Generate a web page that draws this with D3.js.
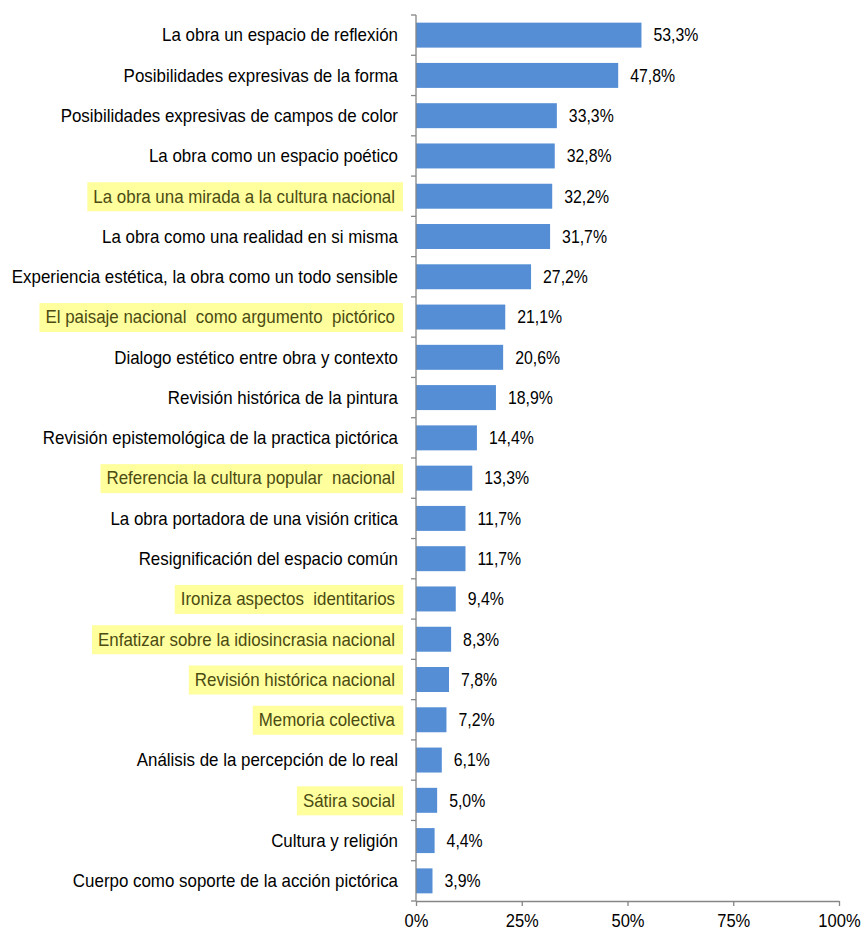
<!DOCTYPE html>
<html>
<head>
<meta charset="utf-8">
<script src="https://cdn.jsdelivr.net/npm/d3@7"></script>
<style>
  body { margin: 0; background: #fff; }
  text { font-family: "Liberation Sans", Arial, sans-serif; }
</style>
</head>
<body>
<svg id="chart" width="864" height="930"></svg>
<script>
const categories = [
  "La obra un espacio de reflexión",
  "Posibilidades expresivas de la forma",
  "Posibilidades expresivas de campos de color",
  "La obra como un espacio poético",
  "La obra una mirada a la cultura nacional",
  "La obra como una realidad en si misma",
  "Experiencia estética, la obra como un todo sensible",
  "El paisaje nacional  como argumento  pictórico",
  "Dialogo estético entre obra y contexto",
  "Revisión histórica de la pintura",
  "Revisión epistemológica de la practica pictórica",
  "Referencia la cultura popular  nacional",
  "La obra portadora de una visión critica",
  "Resignificación del espacio común",
  "Ironiza aspectos  identitarios",
  "Enfatizar sobre la idiosincrasia nacional",
  "Revisión histórica nacional",
  "Memoria colectiva",
  "Análisis de la percepción de lo real",
  "Sátira social",
  "Cultura y religión",
  "Cuerpo como soporte de la acción pictórica"
];
const values = [53.3, 47.8, 33.3, 32.8, 32.2, 31.7, 27.2, 21.1, 20.6, 18.9, 14.4, 13.3, 11.7, 11.7, 9.4, 8.3, 7.8, 7.2, 6.1, 5.0, 4.4, 3.9];
const highlighted = [
  "La obra una mirada a la cultura nacional",
  "El paisaje nacional  como argumento  pictórico",
  "Referencia la cultura popular  nacional",
  "Ironiza aspectos  identitarios",
  "Enfatizar sobre la idiosincrasia nacional",
  "Revisión histórica nacional",
  "Memoria colectiva",
  "Sátira social"
];
const xTicks = [0, 25, 50, 75, 100];

const svg = d3.select("#chart");
const mLeft = 416, mRight = 839, mTop = 15, mBottom = 901;
const fontSize = 18;
const labelScale = 0.94, valueScale = 0.88, tickScale = 0.92;

const x = d3.scaleLinear().domain([0, 100]).range([mLeft, mRight]);
const y = d3.scaleBand().domain(categories).range([mTop, mBottom]).paddingInner(0.38).paddingOuter(0.19);

const fmt = v => v.toFixed(1).replace(".", ",") + "%";

// highlight boxes + labels
const labels = svg.append("g");
categories.forEach(c => {
  const hl = highlighted.includes(c);
  const cy = y(c) + y.bandwidth() / 2;
  const tx = hl ? mLeft - 21 : mLeft - 18;
  const t = labels.append("text")
    .attr("transform", `translate(${tx},${cy}) scale(${labelScale},1)`)
    .attr("dy", "0.35em")
    .attr("text-anchor", "end")
    .attr("font-size", fontSize)
    .attr("fill", hl ? "#4b4b12" : "#000")
    .style("white-space", "pre")
    .text(c);
  if (hl) {
    const bb = t.node().getBBox();
    const bx = tx + bb.x * labelScale;
    const bw = bb.width * labelScale;
    labels.insert("rect", "text")
      .attr("x", bx - 6)
      .attr("y", cy - 14)
      .attr("width", bw + 14)
      .attr("height", 29)
      .attr("fill", "#ffff9e");
  }
});

// bars
svg.append("g").selectAll("rect")
  .data(categories)
  .join("rect")
  .attr("x", x(0))
  .attr("y", d => y(d))
  .attr("width", (d, i) => x(values[i]) - x(0))
  .attr("height", y.bandwidth())
  .attr("fill", "#558ed5");

// value labels
svg.append("g").selectAll("text")
  .data(categories)
  .join("text")
  .attr("transform", (d, i) => `translate(${x(values[i]) + 12},${y(d) + y.bandwidth() / 2}) scale(${valueScale},1)`)
  .attr("dy", "0.35em")
  .attr("font-size", fontSize)
  .attr("fill", "#000")
  .text((d, i) => fmt(values[i]));

// y axis line with ticks at band boundaries
const axisColor = "#868686";
svg.append("line").attr("x1", mLeft).attr("x2", mLeft).attr("y1", mTop).attr("y2", mBottom)
  .attr("stroke", axisColor).attr("stroke-width", 1.3);
const bounds = d3.range(categories.length + 1).map(i => mTop + i * (mBottom - mTop) / categories.length);
svg.append("g").selectAll("line").data(bounds).join("line")
  .attr("x1", mLeft - 5).attr("x2", mLeft).attr("y1", d => d).attr("y2", d => d)
  .attr("stroke", axisColor).attr("stroke-width", 1.3);

// x axis
const xAxis = svg.append("g").attr("transform", `translate(0,${mBottom})`)
  .call(d3.axisBottom(x).tickValues(xTicks).tickSize(5).tickSizeOuter(0).tickFormat(d => d + "%"));
xAxis.select(".domain").attr("stroke", axisColor).attr("stroke-width", 1.3);
xAxis.selectAll(".tick line").attr("stroke", axisColor).attr("stroke-width", 1.3);
xAxis.selectAll(".tick text")
  .attr("font-size", fontSize).attr("fill", "#000")
  .attr("font-family", "Liberation Sans, Arial, sans-serif")
  .attr("y", 0).attr("dy", 0)
  .attr("transform", `translate(0,21) scale(${tickScale},1)`)
  .attr("dominant-baseline", "middle");
</script>
</body>
</html>
